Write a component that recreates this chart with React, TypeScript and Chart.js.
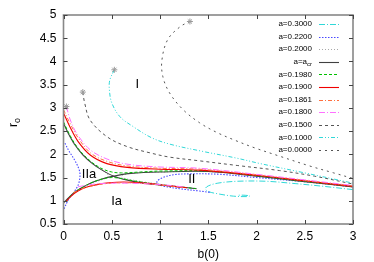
import { useEffect, useRef } from "react";
import { Chart, registerables } from "chart.js";

Chart.register(...registerables);

type P = [number, number];

const xTickValues = [0, 0.5, 1, 1.5, 2, 2.5, 3];
const yTickValues = [0.5, 1, 1.5, 2, 2.5, 3, 3.5, 4, 4.5, 5];
const xTitle = "b(0)";
const yTitleMain = "r";
const yTitleSub = "o";

// a = 0.3000
const a3000: P[] = [[3.0,1.24],[2.7,1.31],[2.4,1.37],[2.1,1.42],[1.8,1.42],[1.6,1.38],[1.5,1.32],[1.47,1.26],[1.5,1.2],[1.6,1.15],[1.76,1.1],[1.9,1.09],[1.93,1.105],[1.87,1.12],[1.8,1.12]];
// a = 0.2200
const a2200Left: P[] = [[0.015,2.24],[0.06,2.06],[0.12,1.86],[0.165,1.65],[0.17,1.5],[0.15,1.33],[0.1,1.16],[0.05,1.02],[0.0,0.8]];
const a2200Right: P[] = [[3.0,1.3],[2.5,1.41],[2.0,1.5],[1.62,1.57],[1.3,1.58],[1.14,1.56],[1.03,1.5],[0.97,1.42],[0.98,1.36],[1.05,1.31],[1.2,1.26],[1.41,1.21],[1.52,1.18]];
// a = 0.2000
const a2000Left: P[] = [[0.0,2.68],[0.1,2.25],[0.2,1.99],[0.3,1.8],[0.4,1.66],[0.46,1.56],[0.45,1.5],[0.38,1.44],[0.28,1.37],[0.18,1.27],[0.1,1.16],[0.03,1.0]];
const a2000Right: P[] = [[3.0,1.3],[2.5,1.41],[2.0,1.53],[1.5,1.63],[1.0,1.62],[0.75,1.6],[0.62,1.56],[0.6,1.51],[0.68,1.46],[0.85,1.4],[1.05,1.34],[1.25,1.29],[1.36,1.26]];
// a = a_cr
const acrA: P[] = [[0,2.67],[0.05,2.45],[0.12,2.2],[0.2,1.99],[0.3,1.8],[0.4,1.66],[0.52,1.53],[0.65,1.45],[0.8,1.39],[1.0,1.34],[1.2,1.3],[1.38,1.26]];
const acrB: P[] = [[0.0,0.95],[0.04,1.04],[0.1,1.16],[0.18,1.27],[0.28,1.38],[0.4,1.47],[0.52,1.53],[0.7,1.59],[1.0,1.62],[1.5,1.63],[2.0,1.53],[2.5,1.41],[3.0,1.3]];
// a = 0.1980
const a1980Upper: P[] = [[0,2.7],[0.05,2.48],[0.12,2.22],[0.2,2.01],[0.3,1.82],[0.4,1.69],[0.5,1.62],[0.6,1.6],[0.8,1.62],[1.0,1.64],[1.5,1.64],[2.0,1.54],[2.5,1.42],[3.0,1.31]];
const a1980Lower: P[] = [[0.03,1.0],[0.1,1.16],[0.18,1.27],[0.28,1.38],[0.4,1.47],[0.5,1.5],[0.6,1.48],[0.7,1.44],[0.85,1.39],[1.0,1.35],[1.2,1.3],[1.37,1.265]];
// a = 0.1900
const a1900Upper: P[] = [[0,2.89],[0.067,2.59],[0.15,2.28],[0.28,1.98],[0.45,1.8],[0.66,1.72],[1.0,1.68],[1.41,1.66],[2.0,1.55],[2.5,1.43],[3.0,1.31]];
const a1900Lower: P[] = [[0.03,0.99],[0.08,1.1],[0.15,1.21],[0.25,1.3],[0.4,1.37],[0.55,1.4],[0.7,1.4],[0.9,1.37],[1.1,1.32],[1.28,1.28]];
// a = 0.1861
const a1861Upper: P[] = [[0,2.96],[0.067,2.67],[0.15,2.36],[0.28,2.03],[0.45,1.85],[0.66,1.75],[1.0,1.7],[1.41,1.68],[2.0,1.56],[2.5,1.44],[3.0,1.32]];
const a1861Lower: P[] = [[0.1,1.17],[0.17,1.24],[0.27,1.31],[0.4,1.36],[0.55,1.385],[0.7,1.385],[0.9,1.36],[1.1,1.32],[1.26,1.285]];
// a = 0.1800
const a1800Upper: P[] = [[0.03,3.03],[0.067,2.76],[0.137,2.45],[0.275,2.1],[0.45,1.9],[0.655,1.79],[0.97,1.73],[1.41,1.7],[2.0,1.57],[2.5,1.45],[3.0,1.33]];
const a1800Lower: P[] = [[0.15,1.3],[0.22,1.33],[0.32,1.36],[0.45,1.375],[0.6,1.38],[0.8,1.37],[1.0,1.35],[1.15,1.32],[1.25,1.295]];
// a = 0.1500
const a1500: P[] = [[0.2,3.34],[0.22,3.1],[0.275,2.74],[0.45,2.38],[0.655,2.17],[0.9,2.03],[1.1,1.94],[1.41,1.86],[1.8,1.76],[2.24,1.65],[2.6,1.53],[3.0,1.36]];
// a = 0.1000
const a1000: P[] = [[0.527,3.82],[0.48,3.6],[0.475,3.4],[0.5,3.11],[0.585,2.81],[0.72,2.6],[0.91,2.36],[1.1,2.22],[1.45,2.06],[1.79,1.92],[2.04,1.8],[2.5,1.6],[3.0,1.38]];
// a = 0.0000
const a0000: P[] = [[1.31,4.86],[1.21,4.75],[1.08,4.47],[1.02,4.03],[1.03,3.67],[1.1,3.32],[1.24,2.96],[1.41,2.68],[1.59,2.47],[1.78,2.3],[1.98,2.14],[2.24,1.96],[2.55,1.75],[2.8,1.6],[3.0,1.48]];

const startMarks: P[] = [[0.03,3.03],[0.2,3.34],[0.527,3.82],[1.31,4.86]];

const regionTexts = ["I", "IIa", "Ia", "II"];
const regionX = [0.765, 0.265, 0.55, 1.33];
const regionY = [3.5, 1.56, 0.98, 1.45];

const legendLabels = ["a=0.3000","a=0.2200","a=0.2000","a=a_cr","a=0.1980","a=0.1900","a=0.1861","a=0.1800","a=0.1500","a=0.1000","a=0.0000"];

// styles per legend entry
const styles = [
  { color: "#30d8d8", dash: [6, 2, 1, 2], width: 1 },
  { color: "#4848ff", dash: [1.5, 1.5], width: 1.1 },
  { color: "#a8a8a8", dash: [1, 2], width: 1 },
  { color: "#404040", dash: [], width: 1.1 },
  { color: "#00c000", dash: [3, 2], width: 1 },
  { color: "#f00000", dash: [], width: 1.1 },
  { color: "#ff7040", dash: [4, 2, 1, 2], width: 1 },
  { color: "#ff70ff", dash: [6, 2, 1, 2], width: 1 },
  { color: "#555555", dash: [3, 3], width: 1 },
  { color: "#30d8d8", dash: [4, 2, 1, 2, 1, 2], width: 1 },
  { color: "#555555", dash: [2, 4], width: 1 },
];

const seriesBranches: P[][][] = [
  [a3000],
  [a2200Left, a2200Right],
  [a2000Left, a2000Right],
  [acrA, acrB],
  [a1980Upper, a1980Lower],
  [a1900Upper, a1900Lower],
  [a1861Upper, a1861Lower],
  [a1800Upper, a1800Lower],
  [a1500],
  [a1000],
  [a0000],
];

const FONT = "'Liberation Sans', Arial, Helvetica, sans-serif";

const overlay = {
  id: "overlay",
  afterDatasetsDraw(chart: any) {
    const ctx = chart.ctx as CanvasRenderingContext2D;
    const { left, right, top, bottom } = chart.chartArea;
    const xs = chart.scales.x;
    const ys = chart.scales.y;
    ctx.save();
    // frame
    ctx.strokeStyle = "#888888";
    ctx.lineWidth = 1.6;
    ctx.setLineDash([]);
    ctx.strokeRect(left, top, right - left, bottom - top);
    // inward ticks
    ctx.strokeStyle = "#444444";
    ctx.lineWidth = 1;
    const tl = 4;
    ctx.beginPath();
    for (const v of xTickValues) {
      const px = Math.round(xs.getPixelForValue(v)) + 0.5;
      ctx.moveTo(px, bottom); ctx.lineTo(px, bottom - tl);
      ctx.moveTo(px, top); ctx.lineTo(px, top + tl);
    }
    for (const v of yTickValues) {
      const py = Math.round(ys.getPixelForValue(v)) + 0.5;
      ctx.moveTo(left, py); ctx.lineTo(left + tl, py);
      ctx.moveTo(right, py); ctx.lineTo(right - tl, py);
    }
    ctx.stroke();

    // region labels
    ctx.fillStyle = "#000";
    ctx.font = `13px ${FONT}`;
    ctx.textAlign = "center";
    ctx.textBaseline = "middle";
    regionTexts.forEach((t, i) => {
      ctx.fillText(t, xs.getPixelForValue(regionX[i]), ys.getPixelForValue(regionY[i]));
    });

    // legend
    const rowY0 = 24;
    const rowStep = 12.6;
    const textRight = 312;
    const sx0 = 319;
    const sx1 = 339;
    ctx.textBaseline = "middle";
    legendLabels.forEach((lab, i) => {
      const y = rowY0 + i * rowStep;
      ctx.fillStyle = "#000";
      ctx.textAlign = "right";
      if (lab.includes("_")) {
        const [main, sub] = lab.split("_");
        ctx.font = `6px ${FONT}`;
        const sw = ctx.measureText(sub).width;
        ctx.fillText(sub, textRight, y + 2.5);
        ctx.font = `8px ${FONT}`;
        ctx.fillText(main, textRight - sw, y);
      } else {
        ctx.font = `8px ${FONT}`;
        ctx.fillText(lab, textRight, y);
      }
      const st = styles[i];
      ctx.strokeStyle = st.color;
      ctx.lineWidth = st.width;
      ctx.setLineDash(st.dash);
      ctx.beginPath();
      ctx.moveTo(sx0, Math.round(y) + 0.5);
      ctx.lineTo(sx1, Math.round(y) + 0.5);
      ctx.stroke();
    });
    ctx.setLineDash([]);

    // axis titles
    ctx.fillStyle = "#000";
    ctx.font = `12px ${FONT}`;
    ctx.textAlign = "center";
    ctx.textBaseline = "middle";
    ctx.fillText(xTitle, (left + right) / 2, 255);

    ctx.save();
    ctx.translate(17, 127);
    ctx.rotate(-Math.PI / 2);
    ctx.textAlign = "left";
    ctx.textBaseline = "alphabetic";
    ctx.font = `12px ${FONT}`;
    ctx.fillText(yTitleMain, 0, 0);
    const rw = ctx.measureText(yTitleMain).width;
    ctx.font = `9px ${FONT}`;
    ctx.fillText(yTitleSub, rw, 2.5);
    ctx.restore();

    ctx.restore();
  },
};

export default function App() {
  const ref = useRef<HTMLCanvasElement | null>(null);
  useEffect(() => {
    if (!ref.current) return;
    const datasets: any[] = [];
    let idx = 0;
    const total = seriesBranches.reduce((s, b) => s + b.length, 0) + 1;
    seriesBranches.forEach((branches, si) => {
      const st = styles[si];
      branches.forEach((br) => {
        datasets.push({
          label: legendLabels[si],
          data: br.map(([x, y]) => ({ x, y })),
          showLine: true,
          borderColor: st.color,
          backgroundColor: st.color,
          borderWidth: st.width,
          borderDash: st.dash,
          pointRadius: 0,
          tension: 0.35,
          fill: false,
          order: total - idx,
        });
        idx++;
      });
    });
    datasets.push({
      label: "start",
      data: startMarks.map(([x, y]) => ({ x, y })),
      showLine: false,
      pointStyle: "star",
      pointRadius: 3,
      borderColor: "#9a9a9a",
      backgroundColor: "#cccccc",
      borderWidth: 1,
      order: 0,
    });

    const chart = new Chart(ref.current, {
      type: "scatter",
      data: { datasets },
      options: {
        responsive: false,
        animation: false,
        layout: { padding: { top: 15, right: 21, left: 0, bottom: 0 } },
        plugins: { legend: { display: false }, tooltip: { enabled: false } },
        scales: {
          x: {
            type: "linear",
            min: 0,
            max: 3,
            grid: { display: false, drawTicks: false },
            border: { display: false },
            afterBuildTicks: (s: any) => { s.ticks = xTickValues.map((v) => ({ value: v })); },
            afterFit: (s: any) => { s.height = 38; },
            ticks: {
              padding: 5,
              color: "#000",
              font: { family: FONT, size: 12 },
              callback: (v: any) => String(v),
            },
          },
          y: {
            type: "linear",
            min: 0.5,
            max: 5,
            grid: { display: false, drawTicks: false },
            border: { display: false },
            afterBuildTicks: (s: any) => { s.ticks = yTickValues.map((v) => ({ value: v })); },
            afterFit: (s: any) => { s.width = 63.5; },
            ticks: {
              padding: 7,
              color: "#000",
              font: { family: FONT, size: 12 },
              callback: (v: any) => String(v),
            },
          },
        },
      },
      plugins: [overlay],
    });
    return () => chart.destroy();
  }, []);

  return (
    <div style={{ position: "fixed", left: 0, top: 0, width: 374, height: 262, background: "#fff" }}>
      <canvas ref={ref} width={374} height={262} style={{ width: 374, height: 262, display: "block" }} />
    </div>
  );
}
